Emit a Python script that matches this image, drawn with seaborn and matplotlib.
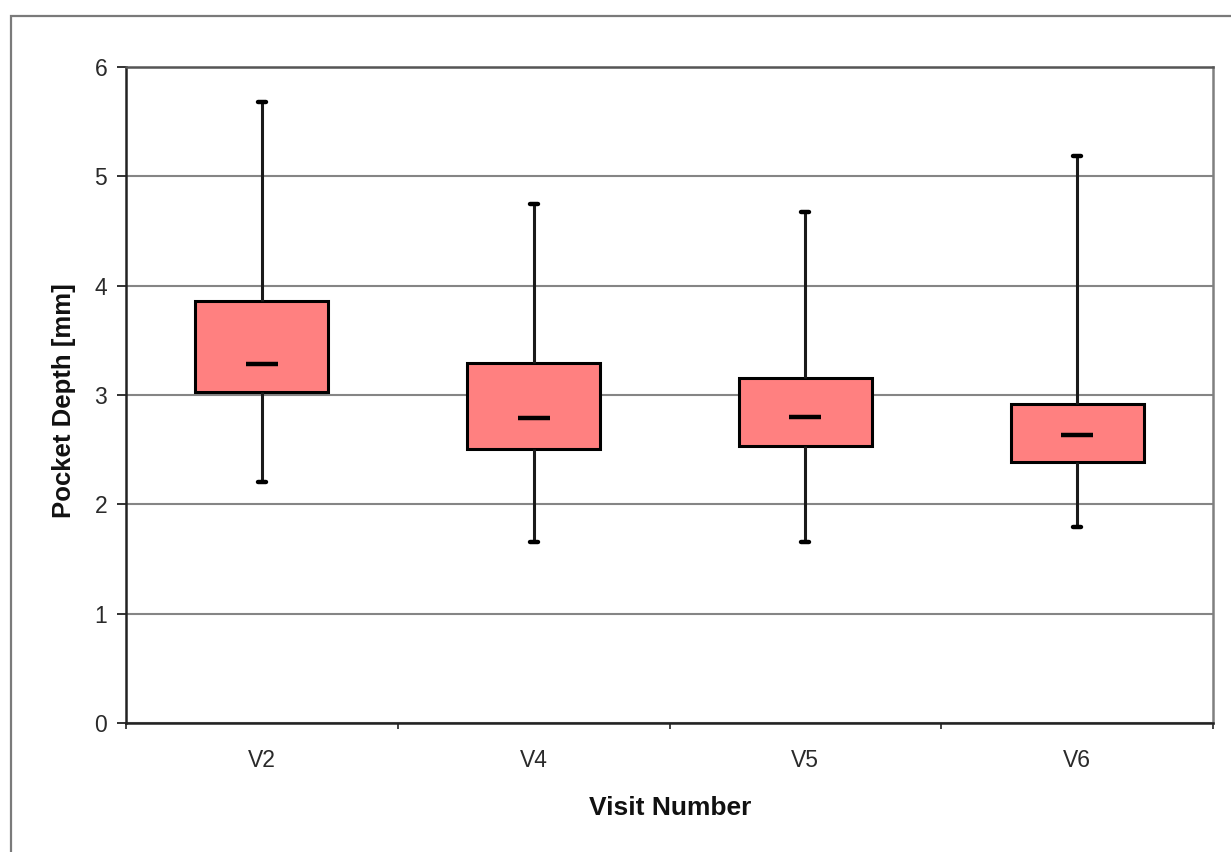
import numpy as np
import pandas as pd
import matplotlib
matplotlib.use("Agg")
import matplotlib.pyplot as plt
from matplotlib.patches import Rectangle
from matplotlib.ticker import FixedLocator
import seaborn as sns

# Pocket depth summary per visit: whisker ends, quartiles and median (mm)
visits = ["V2", "V4", "V5", "V6"]
lows = [2.20, 1.66, 1.66, 1.79]
q1s = [3.03, 2.51, 2.53, 2.39]
medians = [3.28, 2.79, 2.80, 2.63]
q3s = [3.86, 3.29, 3.16, 2.92]
highs = [5.68, 4.75, 4.67, 5.19]
y_ticks = [0, 1, 2, 3, 4, 5, 6]

# Five points per visit reproduce min / Q1 / median / Q3 / max exactly
records = []
for v, lo, a, m, b, hi in zip(visits, lows, q1s, medians, q3s, highs):
    for val in (lo, a, m, b, hi):
        records.append({"Visit": v, "Depth": val})
df = pd.DataFrame(records)

sns.set_theme(style="white")
plt.rcParams["font.family"] = ["Liberation Sans", "DejaVu Sans"]

fig = plt.figure(figsize=(12.31, 8.52), dpi=100)
ax = fig.add_axes([126 / 1231, 1 - 723 / 852, 1087 / 1231, 656 / 852])

# Outer chart frame (its right and bottom edges run past the canvas)
fig.patches.append(Rectangle((11 / 1231, -0.2), 1.2, 1.2 - 16 / 852, transform=fig.transFigure,
                             fill=False, edgecolor="#7a7a7a", linewidth=1.6, zorder=0,
                             clip_on=False))

ax.set_ylim(0, 6)
ax.yaxis.set_major_locator(FixedLocator(y_ticks))
ax.grid(axis="y", color="#858585", linewidth=1.5, zorder=0)
ax.set_axisbelow(True)

sns.boxplot(data=df, x="Visit", y="Depth", order=visits, whis=(0, 100),
            width=0.49, color="#FF8080", saturation=1, linecolor="black",
            linewidth=2.2, showfliers=False, ax=ax,
            medianprops={"visible": False},
            whiskerprops={"color": "#1a1a1a", "linewidth": 2.2},
            capprops={"color": "black", "linewidth": 3.2},
            capwidths=0.03)

sns.scatterplot(x=visits, y=medians, marker="_", s=540, linewidth=3.2,
                color="black", zorder=5, ax=ax, legend=False)

ax.set_xlim(-0.5, 3.5)
ax.set_ylim(0, 6)

for side in ("left", "bottom"):
    ax.spines[side].set_color("#222222")
    ax.spines[side].set_linewidth(1.8)
for side in ("top", "right"):
    ax.spines[side].set_color("#808080")
    ax.spines[side].set_linewidth(1.8)
ax.spines["top"].set_color("#555555")

ax.tick_params(axis="y", which="major", direction="out", length=6.5, width=1.3,
               color="#222222", pad=7, labelsize=16.5, labelcolor="#2a2a2a", left=True)
ax.tick_params(axis="x", which="major", length=0, pad=19, labelsize=16.5,
               labelcolor="#2a2a2a")
ax.xaxis.set_minor_locator(FixedLocator([-0.5, 0.5, 1.5, 2.5, 3.5]))
ax.tick_params(axis="x", which="minor", direction="out", length=4.5, width=1.2,
               color="#222222", bottom=True)

ax.set_xlabel("Visit Number", fontsize=19, fontweight="bold", color="#111111")
ax.set_ylabel("Pocket Depth [mm]", fontsize=18.5, fontweight="bold", color="#111111")
ax.xaxis.set_label_coords(0.5005, -0.112)
ax.yaxis.set_label_coords(-0.046, 0.492)

fig.savefig("out.png", dpi=100, facecolor="white")
